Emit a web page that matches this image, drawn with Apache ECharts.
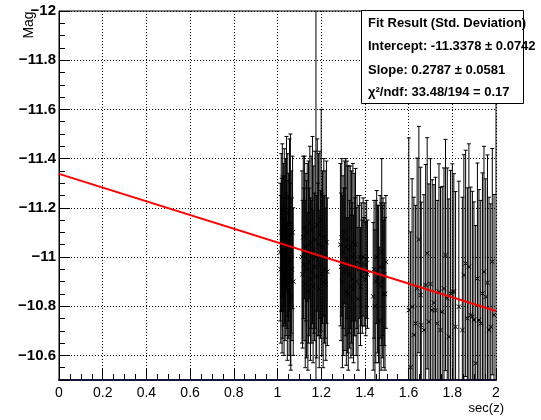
<!DOCTYPE html>
<html><head><meta charset="utf-8">
<script src="https://cdn.jsdelivr.net/npm/echarts@6/dist/echarts.min.js"></script>
<style>html,body{margin:0;padding:0;background:#fff}#c{width:541px;height:420px}</style>
</head><body><div id="c"></div>
<script>
// sec(z) values, by cluster
const secZ = [
  1.013,1.015,1.017,1.019,1.021,1.022,1.024,1.026,1.028,1.030,1.031,1.033,1.035,1.037,1.039,1.041,1.043,1.045,1.047,1.049,1.051,1.053,1.055,1.057,1.059,1.061,1.063,1.066,1.069,1.072,
  1.112,1.115,1.118,1.121,1.124,1.127,1.130,1.133,1.136,1.139,1.142,1.145,1.148,1.151,1.154,1.157,1.160,1.163,1.166,1.169,1.172,1.176,1.179,1.182,1.185,1.188,1.191,1.194,1.197,1.200,1.203,1.206,1.209,1.212,1.215,1.218,1.221,1.224,1.228,
  1.288,1.291,1.294,1.297,1.300,1.303,1.306,1.309,1.312,1.315,1.318,1.321,1.324,1.327,1.330,1.333,1.336,1.339,1.342,1.345,1.348,1.351,1.354,1.357,1.360,1.364,1.368,1.372,1.376,1.380,1.384,1.388,1.392,1.396,1.400,1.404,1.408,1.412,
  1.438,1.442,1.446,1.450,1.454,1.458,1.462,1.466,1.470,1.474,1.477,1.480,1.483,1.486,1.489,1.492,1.496,
  1.601,1.609,1.616,1.624,1.632,1.639,1.647,1.655,1.658,1.670,1.678,1.685,1.693,1.700,1.708,1.716,1.723,1.731,1.739,1.746,1.754,1.762,1.769,1.777,1.784,1.792,1.800,1.807,1.815,1.830,1.846,1.853,1.861,1.869,1.876,1.884,1.892,1.899,1.907,1.915,1.922,1.930,1.938,1.945,1.953,1.961,1.968,1.976,1.983,1.991
];
const mag = [
  -11.02,-10.95,-11.10,-11.05,-10.90,-11.15,-11.00,-10.98,-11.08,-10.88,-11.12,-11.03,-10.93,-11.06,-10.97,-11.18,-11.01,-10.86,-11.09,-10.96,-11.04,-10.92,-11.13,-10.99,-11.03,-10.84,-11.02,-10.95,-11.10,-10.90,
  -11.00,-10.93,-11.08,-10.97,-11.12,-10.89,-11.04,-10.95,-11.10,-10.86,-11.02,-10.98,-11.14,-10.91,-11.06,-10.94,-11.11,-10.88,-11.03,-10.96,-11.07,-11.00,-10.92,-11.13,-10.99,-11.05,-10.87,-11.09,-10.97,-11.15,-10.93,-11.04,-10.90,-11.08,-10.95,-11.01,-10.89,-11.06,-10.94,
  -11.05,-10.96,-11.08,-10.90,-11.02,-10.94,-11.10,-10.95,-11.04,-10.86,-11.07,-10.99,-10.85,-11.03,-10.93,-11.04,-10.88,-11.00,-10.91,-11.06,-10.87,-11.01,-10.96,-11.05,-10.90,-10.98,-10.83,-10.95,-11.00,-10.88,-10.97,-10.92,-11.00,-10.94,-10.97,-10.91,-10.99,-10.93,
  -10.84,-10.95,-10.80,-10.90,-11.00,-10.91,-10.89,-10.74,-10.96,-10.88,-11.02,-10.90,-10.96,-10.85,-10.93,-10.85,-10.98,
  -10.784,-10.552,-10.798,-10.683,-10.730,-10.872,-11.071,-10.845,-10.723,-10.703,-10.886,-11.015,-10.737,-10.890,-10.784,-10.814,-10.784,-10.730,-10.859,-10.703,-10.777,-10.872,-11.008,-10.832,-10.676,-10.852,-10.859,-10.859,-10.716,-10.798,-10.703,-10.926,-10.974,-10.751,-10.960,-10.764,-10.757,-10.744,-10.568,-10.912,-10.744,-10.730,-10.852,-10.940,-10.838,-10.895,-10.703,-10.716,-10.981,-10.764
];
const magErr = [
  0.28,0.30,0.32,0.27,0.29,0.31,0.33,0.26,0.30,0.28,0.32,0.30,0.27,0.34,0.29,0.31,0.30,0.28,0.33,0.29,0.30,0.32,0.35,0.31,0.47,0.30,0.33,0.29,0.31,0.30,
  0.35,0.30,0.33,0.31,0.29,0.34,0.30,0.36,0.28,0.32,0.37,0.30,0.31,0.33,0.35,0.29,0.38,0.31,0.34,0.30,0.36,1.60,0.33,0.35,0.31,0.37,0.32,0.34,0.30,0.45,0.33,0.31,0.35,0.32,0.30,0.34,0.31,0.33,0.30,
  0.33,0.30,0.32,0.35,0.31,0.34,0.29,0.33,0.36,0.30,0.32,0.38,0.31,0.34,0.30,0.33,0.29,0.35,0.31,0.32,0.30,0.33,0.28,0.31,0.30,0.27,0.29,0.26,0.25,0.24,0.25,0.23,0.24,0.22,0.25,0.23,0.24,0.22,
  0.30,0.28,0.31,0.33,0.27,0.30,0.32,0.30,0.29,0.34,0.38,0.31,0.28,0.30,0.29,0.31,0.27,
  0.70,0.55,0.52,0.56,0.48,0.53,0.46,0.52,0.50,0.55,0.49,0.47,0.56,0.51,0.53,0.48,0.54,0.50,0.52,0.58,0.51,0.49,0.47,0.53,0.56,0.50,0.52,0.48,0.55,0.51,0.54,0.49,0.46,0.53,0.50,0.52,0.51,0.48,0.56,0.47,0.53,0.50,0.49,0.51,0.48,0.52,0.54,0.50,0.46,0.49
];
const fitIntercept = -11.3378;
const fitSlope = 0.2787;
const fitRange = [0, 2];
const xTicks = [0, 0.2, 0.4, 0.6, 0.8, 1, 1.2, 1.4, 1.6, 1.8, 2];
const yTicks = [-12, -11.8, -11.6, -11.4, -11.2, -11, -10.8, -10.6];
const statLines = [
  'Fit Result (Std. Deviation)',
  'Intercept: -11.3378 \u00b1 0.0742',
  'Slope: 0.2787 \u00b1 0.0581',
  '\u03c7\u00b2/ndf: 33.48/194 = 0.17'
];

const points = secZ.map((x, i) => [x, mag[i], magErr[i]]);
const fitLine = fitRange.map(x => [x, fitIntercept + fitSlope * x]);

function near(list, v) { return list.some(t => Math.abs(t - v) < 1e-6); }

const chart = echarts.init(document.getElementById('c'), null, {renderer: 'canvas'});
const blk = '#000';
chart.setOption({
  animation: false,
  backgroundColor: '#fff',
  grid: {left: 59, top: 11, width: 437, height: 369, show: true, borderColor: '#000', borderWidth: 1, backgroundColor: 'transparent'},
  xAxis: {
    type: 'value', min: 0, max: 2, interval: 0.2,
    axisLine: {show: true, onZero: false, lineStyle: {color: '#14143a', width: 2}},
    axisTick: {show: true, inside: true, length: 11, lineStyle: {color: blk}},
    minorTick: {show: true, splitNumber: 4, length: 6, lineStyle: {color: blk}},
    splitLine: {show: true, lineStyle: {color: blk, type: [1, 2], width: 1}},
    axisLabel: {color: blk, fontFamily: 'Liberation Sans, Arial', fontSize: 14, margin: 6,
      formatter: v => near(xTicks, v) ? String(Number(v.toFixed(1))) : ''}
  },
  yAxis: {
    type: 'value', min: -12, max: -10.5, interval: 0.2, inverse: true,
    axisLine: {show: true, onZero: false, lineStyle: {color: blk, width: 1}},
    axisTick: {show: true, inside: true, length: 11, lineStyle: {color: blk}},
    minorTick: {show: true, splitNumber: 4, length: 6, lineStyle: {color: blk}},
    splitLine: {show: true, lineStyle: {color: blk, type: [1, 2], width: 1}},
    axisLabel: {color: blk, fontFamily: 'Liberation Sans, Arial', fontWeight: 'bold', fontSize: 15, margin: 3,
      formatter: v => near(yTicks, v) ? (v < 0 ? '\u2212' : '') + String(Number(Math.abs(v).toFixed(1))) : ''}
  },
  series: [
    {
      type: 'custom', clip: true, z: 2,
      data: points,
      encode: {x: 0, y: 1},
      renderItem: function (params, api) {
        const x = api.value(0), y = api.value(1), e = api.value(2);
        const top = api.coord([x, y - e]);
        const bot = api.coord([x, y + e]);
        const c = api.coord([x, y]);
        const cap = 2, m = 2.2;
        const st = {stroke: '#000', lineWidth: 1};
        return {type: 'group', children: [
          {type: 'line', shape: {x1: c[0], y1: top[1], x2: c[0], y2: bot[1]}, style: st},
          {type: 'line', shape: {x1: c[0] - cap, y1: top[1], x2: c[0] + cap, y2: top[1]}, style: st},
          {type: 'line', shape: {x1: c[0] - cap, y1: bot[1], x2: c[0] + cap, y2: bot[1]}, style: st},
          {type: 'line', shape: {x1: c[0] - m, y1: c[1] - m, x2: c[0] + m, y2: c[1] + m}, style: st},
          {type: 'line', shape: {x1: c[0] - m, y1: c[1] + m, x2: c[0] + m, y2: c[1] - m}, style: st}
        ]};
      }
    },
    {
      type: 'line', data: fitLine, symbol: 'none', z: 5,
      lineStyle: {color: '#ff0000', width: 2}
    }
  ],
  graphic: [
    {type: 'text', x: 29, y: 25, rotation: Math.PI / 2, z: 100,
      style: {text: 'Mag', fill: blk, font: '14px "Liberation Sans", Arial', align: 'center', verticalAlign: 'middle', backgroundColor: '#fff'}},
    {type: 'text', x: 504, y: 408, z: 100,
      style: {text: 'sec(z)', fill: blk, font: '13px "Liberation Sans", Arial', align: 'right', verticalAlign: 'middle'}},
    {type: 'rect', z: 100, shape: {x: 361.5, y: 10.5, width: 162, height: 93},
      style: {fill: '#fff', stroke: '#000', lineWidth: 1}},
    ...statLines.map((t, i) => ({type: 'text', x: 368, y: [23, 46, 70, 92][i], z: 101,
      style: {text: t, fill: blk, font: 'bold 13px "Liberation Sans", Arial', verticalAlign: 'middle'}}))
  ]
});
</script></body></html>
